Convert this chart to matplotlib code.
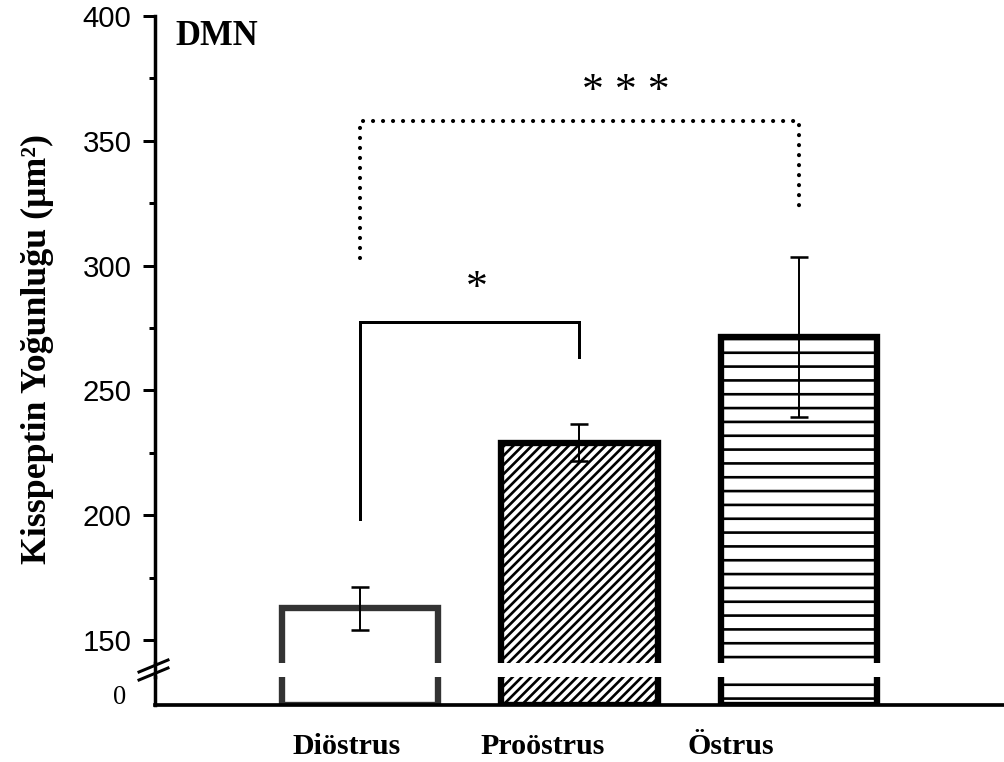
import numpy as np
import matplotlib
matplotlib.use("Agg")
import matplotlib.pyplot as plt
from matplotlib.lines import Line2D

# values
phases = ["Diöstrus", "Proöstrus", "Östrus"]
means = [162.8, 229.1, 271.3]
errors = [8.6, 7.5, 32.0]
hatches = ["", "///", "-"]
edge_cols = ["#333333", "black", "black"]

# significance brackets (bar i, bar j), foot heights, top height, label
sig_pairs = [(0, 1), (0, 2)]
sig_feet = [(198.4, 263.4), (303.0, 321.0)]
sig_tops = [277.5, 358.0]
sig_labels = ["*", "* * *"]
sig_label_y = [286.2, 365.1]
sig_label_x = [0.53, 1.21]

yticks_major = [150, 200, 250, 300, 350, 400]
yticks_minor = [175, 225, 275, 325, 375]
label_shift = [-0.06, -0.17, -0.31]   # x labels sit left of the bars in the original

DPI = 83  # hatch cell = dpi px, so this gives the original hatch spacing
W, H = 1004, 762
SERIF = "Liberation Serif"

plt.rcParams["font.family"] = ["Liberation Sans", "DejaVu Sans"]
plt.rcParams["hatch.linewidth"] = 2.3

fig = plt.figure(figsize=(W / DPI, H / DPI), dpi=DPI)

def fx(px):
    return px / W

def fy(py):
    return 1 - py / H

# pixel layout of the two panels of the broken axis
left, right = 155, 1004
top_y0, top_y1 = 16, 663
bot_y0, bot_y1 = 677, 705
ax = fig.add_axes([fx(left), fy(top_y1), fx(right - left), (top_y1 - top_y0) / H])
axb = fig.add_axes([fx(left), fy(bot_y1), fx(right - left), (bot_y1 - bot_y0) / H])

x = np.arange(len(phases))
for a in (ax, axb):
    bars = a.bar(x, means, width=0.715, color="white", linewidth=5.5, zorder=2)
    for b, h, ec in zip(bars, hatches, edge_cols):
        b.set_edgecolor(ec)
        b.set_hatch(h)
    a.set_xlim(-0.934, 2.934)
    for s in ("top", "right"):
        a.spines[s].set_visible(False)
    a.spines["left"].set_linewidth(3)
    a.spines["bottom"].set_linewidth(3.2)

ax.errorbar(x, means, yerr=errors, fmt="none", ecolor="black",
            elinewidth=1.7, capsize=7.4, capthick=2.2, zorder=4)

# brackets
for k, ((i, j), (f0, f1), t) in enumerate(zip(sig_pairs, sig_feet, sig_tops)):
    if k == 0:
        ax.plot([i, i, j, j], [f0, t, t, f1], color="black", lw=2.6,
                solid_joinstyle="miter", zorder=3)
    else:
        ax.plot([i, i, j, j], [f0, t, t, f1], color="black", lw=3.6,
                linestyle=(0, (0.01, 2.4)), dash_capstyle="round", zorder=3)
for lab, lx, ly in zip(sig_labels, sig_label_x, sig_label_y):
    ax.text(lx, ly, lab, ha="center", va="baseline", fontsize=38, family=SERIF)

# top panel axis
ax.set_ylim(150 - (top_y1 - 640) / 2.496, 400)
ax.set_yticks(yticks_major)
ax.set_yticks(yticks_minor, minor=True)
ax.spines["bottom"].set_visible(False)
ax.set_xticks([])
ax.tick_params(axis="y", which="major", length=10.4, width=2.6, pad=10, labelsize=25.5)
ax.tick_params(axis="y", which="minor", length=5.2, width=2.6)

# bottom panel axis
axb.set_ylim(0, (bot_y1 - bot_y0) / 2.496)
axb.set_yticks([(bot_y1 - 694) / 2.496])
axb.set_yticklabels(["0"], family=SERIF)
axb.tick_params(axis="y", length=0, pad=25, labelsize=23)
axb.set_xticks(x + np.array(label_shift))
axb.set_xticklabels(phases, family=SERIF, fontweight="bold")
axb.tick_params(axis="x", length=0, pad=24.5, labelsize=26)

# spine through the gap and the break marks
fig.add_artist(Line2D([fx(left), fx(left)], [fy(top_y1), fy(bot_y0)], color="black", lw=3))
for dy in (0, 8):
    fig.add_artist(Line2D([fx(139), fx(168)], [fy(672 + dy), fy(660 + dy)],
                          color="black", lw=2.6))

fig.text(fx(37), fy(349), "Kisspeptin Yoğunluğu (μm²)", rotation=90, ha="center",
         va="center", fontsize=31, fontweight="bold", family=SERIF)
fig.text(fx(175), fy(45), "DMN", ha="left", va="baseline", fontsize=30,
         fontweight="bold", family=SERIF)

fig.savefig("out.png", dpi=DPI)
